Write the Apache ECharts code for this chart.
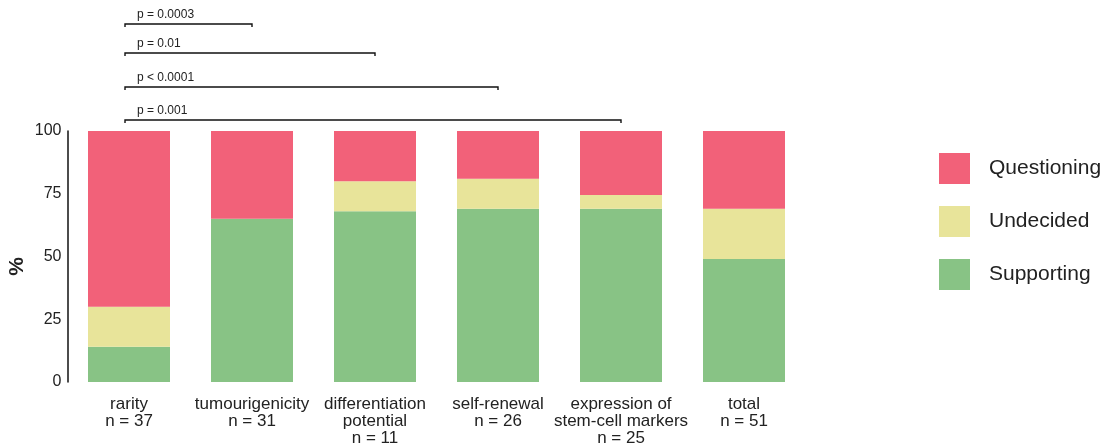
<!DOCTYPE html>
<html>
<head>
<meta charset="utf-8">
<script src="https://cdn.jsdelivr.net/npm/echarts@6/dist/echarts.min.js"></script>
<style>
html,body{margin:0;padding:0;background:#fff;}
#c{width:1105px;height:448px;}
</style>
</head>
<body>
<div id="c"></div>
<script>
const categories = ['rarity\nn = 37','tumourigenicity\nn = 31','differentiation\npotential\nn = 11','self-renewal\nn = 26','expression of\nstem-cell markers\nn = 25','total\nn = 51'];
const supporting  = [14, 65, 68, 69, 69, 49];
const undecided   = [16, 0, 12, 12, 5.5, 20];
const questioning = [70, 35, 20, 19, 25.5, 31];
const yTicks = [0, 25, 50, 75, 100];
const yName = '%';
const pLabels = ['p = 0.0003','p = 0.01','p < 0.0001','p = 0.001'];
const pTargets = [1, 2, 3, 4];

const chart = echarts.init(document.getElementById('c'), null, {renderer:'canvas'});
const font = 'Liberation Sans, Arial, sans-serif';
const cQ = '#f26179', cU = '#e8e49a', cS = '#88c385';
chart.setOption({
  animation:false,
  textStyle:{fontFamily:font},
  grid:{left:67.5, top:131, width:738, height:251, containLabel:false, outerBoundsMode:'none'},
  legend:{
    data:['Questioning','Undecided','Supporting'],
    orient:'vertical', left:939, top:153, padding:0,
    itemWidth:31, itemHeight:31, itemGap:22, icon:'rect',
    textStyle:{fontSize:21, color:'#222', fontFamily:font, padding:[0,0,0,14]}
  },
  xAxis:{
    type:'category', data:categories,
    axisLine:{show:false}, axisTick:{show:false},
    axisLabel:{fontSize:17, color:'#222', lineHeight:17, margin:14, interval:0}
  },
  yAxis:{
    type:'value', min:yTicks[0], max:yTicks[yTicks.length-1], interval:25,
    axisLine:{show:true, lineStyle:{color:'#111', width:1.5}},
    axisTick:{show:false}, splitLine:{show:false},
    axisLabel:{fontSize:16, color:'#222', margin:6}
  },
  series:[
    {name:'Supporting', type:'bar', stack:'a', data:supporting, barWidth:82, itemStyle:{color:cS}},
    {name:'Undecided', type:'bar', stack:'a', data:undecided, barWidth:82, itemStyle:{color:cU}},
    {name:'Questioning', type:'bar', stack:'a', data:questioning, barWidth:82, itemStyle:{color:cQ}}
  ]
});

// y axis title and significance brackets
const g = [];
g.push({type:'text', x:17, y:chart.convertToPixel({yAxisIndex:0}, 50) + 10, rotation:Math.PI/2,
        style:{text:yName, fontSize:21, fontWeight:'bold', fill:'#222', fontFamily:font,
               align:'center', verticalAlign:'middle'}});
const rowY = [24, 53, 87, 120];
const x0 = chart.convertToPixel({xAxisIndex:0}, 0) - 4;
pLabels.forEach((lab, i) => {
  const x1 = chart.convertToPixel({xAxisIndex:0}, pTargets[i]);
  const y = rowY[i];
  g.push({type:'polyline', shape:{points:[[x0,y+3],[x0,y],[x1,y],[x1,y+3]]},
          style:{stroke:'#111', lineWidth:1.4, fill:null}});
  g.push({type:'text', left:x0+12, top:y-15,
          style:{text:lab, fontSize:12, fill:'#222', fontFamily:font}});
});
chart.setOption({graphic:g});
</script>
</body>
</html>
